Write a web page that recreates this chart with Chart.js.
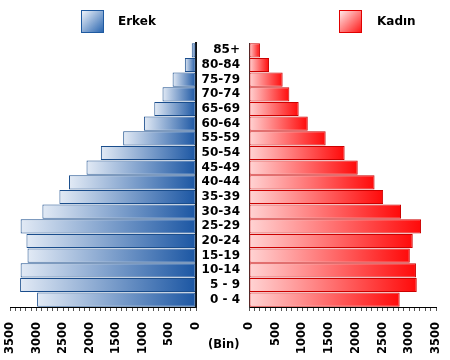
<!DOCTYPE html>
<html>
<head>
<meta charset="utf-8">
<script src="https://cdn.jsdelivr.net/npm/chart.js@4/dist/chart.umd.min.js"></script>
<style>
  html, body { margin:0; padding:0; background:#fff; }
  #wrap { position:relative; width:450px; height:360px; overflow:hidden; background:#fff; font-family:"DejaVu Sans", sans-serif; }
  canvas { position:absolute; top:0; }
  #cL { left:0; }
  #cR { left:198px; }
  .box { position:absolute; top:10px; width:23px; height:23px; box-sizing:border-box; border:1px solid; }
  .lbl { position:absolute; top:14px; font:bold 12px "DejaVu Sans", sans-serif; color:#000; }
  #bin { position:absolute; left:208px; top:337px; font:bold 11.5px "DejaVu Sans", sans-serif; color:#000; }
</style>
</head>
<body>
<div id="wrap">
  <canvas id="cL" width="200" height="360"></canvas>
  <canvas id="cR" width="252" height="360"></canvas>
  <div class="box" style="left:81px;border-color:#1f5aa0;background:linear-gradient(135deg,#eef3fa,#2a66b0);"></div>
  <div class="lbl" style="left:118px;">Erkek</div>
  <div class="box" style="left:339px;border-color:#e00000;background:linear-gradient(135deg,#ffe6e6,#ff1a1a);"></div>
  <div class="lbl" style="left:377px;">Kadın</div>
  <div id="bin">(Bin)</div>
</div>
<script>
// Age groups (bottom to top)
const ages = ['0 - 4','5 - 9','10-14','15-19','20-24','25-29','30-34','35-39','40-44','45-49','50-54','55-59','60-64','65-69','70-74','75-79','80-84','85+'];
// Erkek (male), thousands
const male = [2990, 3310, 3300, 3170, 3190, 3300, 2890, 2570, 2390, 2060, 1790, 1370, 980, 785, 630, 440, 210, 80];
// Kadın (female), thousands
const female = [2820, 3140, 3125, 3010, 3065, 3220, 2845, 2510, 2350, 2035, 1790, 1435, 1100, 930, 755, 630, 375, 205];
const axisMax = 3500;

const tickFont = { family: 'DejaVu Sans', weight: 'bold', size: 11.5 };

function grad(light, dark) {
  return function (ctx) {
    const chart = ctx.chart;
    if (!chart.chartArea || ctx.type !== 'data') return dark;
    const xs = chart.scales.x;
    const p0 = xs.getPixelForValue(0);
    const p1 = xs.getPixelForValue(ctx.raw);
    const a = Math.min(p0, p1), b = Math.max(p0, p1);
    if (!isFinite(a) || !isFinite(b) || b - a < 1) return dark;
    const g = chart.ctx.createLinearGradient(a, 0, b, 0);
    g.addColorStop(0, light);
    g.addColorStop(1, dark);
    return g;
  };
}

function noPad(s) { s.paddingLeft = 0; s.paddingRight = 0; s.paddingTop = 0; s.paddingBottom = 0; }

function xAxis(reverse) {
  return {
    type: 'linear',
    reverse: reverse,
    min: 0,
    max: axisMax,
    ticks: {
      stepSize: 100,
      autoSkip: false,
      minRotation: 90,
      maxRotation: 90,
      padding: 11,
      color: '#000',
      font: tickFont,
      callback: (v) => (v % 500 === 0 ? String(v) : '')
    },
    grid: { display: true, drawOnChartArea: false, drawTicks: true, tickLength: 4, color: '#555' },
    border: { display: true, color: '#000', width: 1 },
    afterFit: (s) => { s.height = 53; noPad(s); }
  };
}

new Chart(document.getElementById('cL'), {
  type: 'bar',
  data: {
    labels: ages,
    datasets: [{
      label: 'Erkek',
      data: male,
      backgroundColor: grad('#e2eaf5', '#1b56a3'),
      borderColor: '#1a4d8c',
      borderWidth: 1,
      borderSkipped: false,
      barPercentage: 0.97,
      categoryPercentage: 1
    }]
  },
  options: {
    indexAxis: 'y',
    responsive: false,
    animation: false,
    events: [],
    layout: { padding: { left: 10, top: 43, right: 0, bottom: 0 } },
    plugins: { legend: { display: false }, tooltip: { enabled: false } },
    scales: {
      x: xAxis(true),
      y: {
        position: 'right',
        reverse: true,
        ticks: { display: false },
        grid: { display: true, drawOnChartArea: false, drawTicks: false },
        border: { display: true, color: '#111', width: 2 },
        afterFit: (s) => { s.width = 4; noPad(s); }
      }
    }
  }
});

new Chart(document.getElementById('cR'), {
  type: 'bar',
  data: {
    labels: ages,
    datasets: [{
      label: 'Kadın',
      data: female,
      backgroundColor: grad('#ffd4d4', '#ff0a0a'),
      borderColor: '#cc0000',
      borderWidth: 1,
      borderSkipped: false,
      barPercentage: 0.97,
      categoryPercentage: 1
    }]
  },
  options: {
    indexAxis: 'y',
    responsive: false,
    animation: false,
    events: [],
    layout: { padding: { left: 0, top: 43, right: 14, bottom: 0 } },
    plugins: { legend: { display: false }, tooltip: { enabled: false } },
    scales: {
      x: xAxis(false),
      y: {
        position: 'left',
        reverse: true,
        ticks: { autoSkip: false, padding: 9, color: '#000', font: { family: 'DejaVu Sans', weight: 'bold', size: 12 } },
        grid: { display: true, drawOnChartArea: false, drawTicks: false },
        border: { display: true, color: '#333', width: 1 },
        afterFit: (s) => { s.width = 51; noPad(s); }
      }
    }
  }
});
</script>
</body>
</html>
